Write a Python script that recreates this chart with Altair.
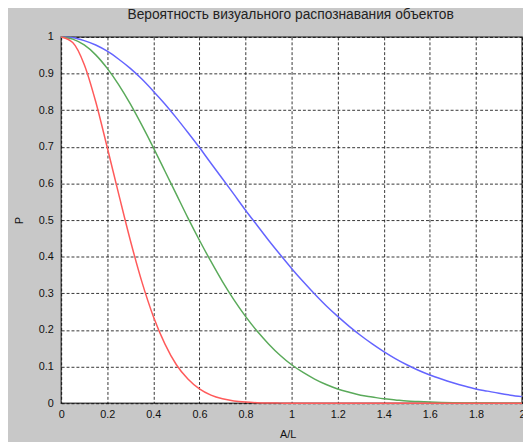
import altair as alt
import pandas as pd

TITLE = "Вероятность визуального распознавания объектов"
X_LABEL = "A/L"
Y_LABEL = "P"

X = [0.00, 0.05, 0.10, 0.15, 0.20, 0.25, 0.30, 0.35, 0.40, 0.45,
     0.50, 0.55, 0.60, 0.65, 0.70, 0.75, 0.80, 0.85, 0.90, 0.95,
     1.00, 1.05, 1.10, 1.15, 1.20, 1.25, 1.30, 1.35, 1.40, 1.45,
     1.50, 1.55, 1.60, 1.65, 1.70, 1.75, 1.80, 1.85, 1.90, 1.95, 2.00]

P_BLUE = [1.000, 0.998, 0.990, 0.978, 0.961, 0.939, 0.914, 0.885, 0.852, 0.817,
          0.779, 0.739, 0.698, 0.655, 0.613, 0.570, 0.527, 0.486, 0.445, 0.406,
          0.368, 0.332, 0.298, 0.266, 0.237, 0.210, 0.185, 0.162, 0.141, 0.122,
          0.105, 0.090, 0.077, 0.066, 0.056, 0.047, 0.039, 0.033, 0.027, 0.022, 0.018]

P_GREEN = [1.000, 0.994, 0.978, 0.951, 0.914, 0.869, 0.817, 0.759, 0.698, 0.634,
           0.570, 0.506, 0.445, 0.387, 0.332, 0.282, 0.237, 0.197, 0.162, 0.131,
           0.105, 0.084, 0.066, 0.051, 0.039, 0.030, 0.022, 0.017, 0.012, 0.009,
           0.006, 0.0045, 0.0032, 0.0022, 0.0015, 0.001, 0.0007, 0.0005, 0.0003, 0.0002, 0.0001]

P_RED = [1.000, 0.985, 0.925, 0.823, 0.698, 0.570, 0.445, 0.332, 0.237, 0.162,
         0.105, 0.066, 0.039, 0.022, 0.012, 0.0063, 0.0032, 0.0015, 0.0007, 0.0003,
         0.0, 0.0, 0.0, 0.0, 0.0, 0.0, 0.0, 0.0, 0.0, 0.0,
         0.0, 0.0, 0.0, 0.0, 0.0, 0.0, 0.0, 0.0, 0.0, 0.0, 0.0]

X_TICKS = [0, 0.2, 0.4, 0.6, 0.8, 1, 1.2, 1.4, 1.6, 1.8, 2]
Y_TICKS = [0, 0.1, 0.2, 0.3, 0.4, 0.5, 0.6, 0.7, 0.8, 0.9, 1]

COLORS = {"blue": "#6464ff", "green": "#5aaa5a", "red": "#ff5a5a"}

FONT = "Liberation Sans"

x_enc = alt.X(
    "x:Q",
    scale=alt.Scale(domain=[0, 2], nice=False, zero=False),
    axis=alt.Axis(
        values=X_TICKS, format="~g", title=X_LABEL, grid=True,
        ticks=False, domain=False, labelPadding=6, labelFlush=False,
        titleX=230, titleY=26, titleBaseline="top", titleAnchor="start", titleAlign="center",
    ),
)
y_enc = alt.Y(
    "p:Q",
    scale=alt.Scale(domain=[0, 1], nice=False),
    axis=alt.Axis(
        values=Y_TICKS, format="~g", title=Y_LABEL, grid=True,
        ticks=False, domain=False, labelPadding=8, labelFlush=False,
        titleX=-42, titleY=186, titleAngle=270, titleBaseline="middle", titleAlign="center",
    ),
)

layers = []
for name, vals in [("blue", P_BLUE), ("green", P_GREEN), ("red", P_RED)]:
    df = pd.DataFrame({"x": X, "p": vals})
    layers.append(
        alt.Chart(df).mark_line(color=COLORS[name], strokeWidth=1.5, interpolate="monotone").encode(x=x_enc, y=y_enc)
    )

chart = (
    alt.layer(*layers)
    .properties(
        width=468,
        height=372,
        title=alt.TitleParams(TITLE, fontSize=14, font=FONT, fontWeight="normal",
                              color="#222", baseline="alphabetic", offset=12, dx=-1, dy=14,
                              frame="group", anchor="middle"),
        autosize=alt.AutoSizeParams(type="none"),
        padding={"left": 54, "top": 26, "right": 1, "bottom": 36},
        background="#c8c8c8",
    )
    .configure_view(fill="white", stroke="#555", strokeWidth=1.5)
    .configure_axis(
        labelFont=FONT, labelFontSize=11, labelColor="#111",
        titleFont=FONT, titleFontSize=11, titleColor="#111", titleFontWeight="normal",
        gridColor="#000", gridOpacity=0.8, gridDash=[3, 2], gridWidth=1,
    )
)

chart.save("out.html", embed_options={"renderer": "svg", "actions": False})
